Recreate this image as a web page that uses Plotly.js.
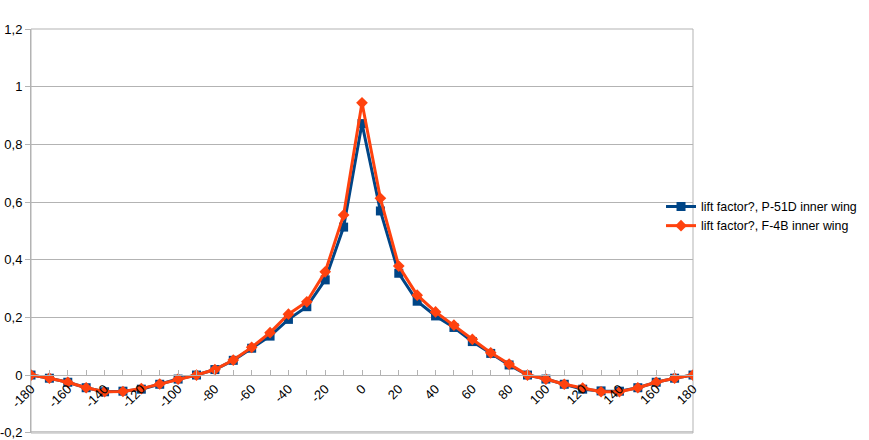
<!DOCTYPE html>
<html>
<head>
<meta charset="utf-8">
<script src="https://cdn.plot.ly/plotly-3.0.1.min.js"></script>
<style>html,body{margin:0;padding:0;background:#fff;}#chart{width:869px;height:440px;}</style>
</head>
<body>
<div id="chart"></div>
<script>
const angles = [-180,-170,-160,-150,-140,-130,-120,-110,-100,-90,-80,-70,-60,-50,-40,-30,-20,-10,0,10,20,30,40,50,60,70,80,90,100,110,120,130,140,150,160,170,180];
const p51d = [0,-0.011,-0.025,-0.044,-0.058,-0.056,-0.049,-0.032,-0.014,0,0.019,0.051,0.093,0.135,0.193,0.237,0.330,0.513,0.872,0.569,0.353,0.256,0.205,0.165,0.116,0.075,0.035,0,-0.014,-0.032,-0.049,-0.055,-0.056,-0.044,-0.025,-0.011,0];
const f4b = [0,-0.011,-0.025,-0.044,-0.058,-0.057,-0.047,-0.031,-0.014,0,0.019,0.052,0.096,0.147,0.211,0.254,0.358,0.555,0.944,0.613,0.378,0.277,0.219,0.173,0.124,0.077,0.038,0,-0.014,-0.032,-0.045,-0.058,-0.058,-0.044,-0.025,-0.011,0];
const seriesNames = ["lift factor?, P-51D inner wing", "lift factor?, F-4B inner wing"];
const xTickVals = [-180,-160,-140,-120,-100,-80,-60,-40,-20,0,20,40,60,80,100,120,140,160,180];
const xTickText = ["-180","-160","-140","-120","-100","-80","-60","-40","-20","0","20","40","60","80","100","120","140","160","180"];
const yTickVals = [-0.2,0,0.2,0.4,0.6,0.8,1,1.2];
const yTickText = ["-0,2","0","0,2","0,4","0,6","0,8","1","1,2"];

const gridCol = '#b3b3b3';
const traces = [
  {x: angles, y: p51d, name: seriesNames[0], type: 'scatter', mode: 'lines+markers',
   line: {color: '#004586', width: 3}, marker: {symbol: 'square', size: 9, color: '#004586'}},
  {x: angles, y: f4b, name: seriesNames[1], type: 'scatter', mode: 'lines+markers',
   line: {color: '#ff420e', width: 3}, marker: {symbol: 'diamond', size: 9, color: '#ff420e'}}
];
const layout = {
  width: 869, height: 440,
  margin: {l: 31, r: 176, t: 29, b: 7, pad: 0},
  paper_bgcolor: '#fff', plot_bgcolor: '#fff',
  font: {family: 'Liberation Sans, Arial, sans-serif', size: 12, color: '#000'},
  showlegend: true,
  legend: {x: 0.9517, xanchor: 'left', y: 0.536, yanchor: 'middle', bgcolor: 'rgba(0,0,0,0)',
           font: {size: 12.4, color: '#000'}, tracegroupgap: 0},
  xaxis: {range: [-180, 180], tickvals: xTickVals, ticktext: xTickText, tickangle: -45,
          anchor: 'free', position: 0.2/1.4, showgrid: false, zeroline: false,
          showline: true, linecolor: gridCol, linewidth: 1,
          ticks: 'inside', ticklen: 5, tickcolor: gridCol, ticklabeloverflow: 'allow',
          minor: {dtick: 10, tick0: 0, ticks: 'inside', ticklen: 5, tickcolor: gridCol, showgrid: false},
          tickfont: {size: 13, color: '#000'}},
  yaxis: {range: [-0.201, 1.2], tickvals: yTickVals, ticktext: yTickText,
          showgrid: true, gridcolor: gridCol, gridwidth: 1, zeroline: false,
          showline: true, linecolor: gridCol, linewidth: 1, ticklabeloverflow: 'allow',
          ticks: 'outside', ticklen: 5, tickcolor: gridCol, tickfont: {size: 13, color: '#000'}},
  shapes: [
    {type: 'rect', xref: 'paper', yref: 'paper', x0: 0, x1: 1, y0: 0, y1: 1,
     line: {color: gridCol, width: 1}, layer: 'below'},
    {type: 'line', xref: 'paper', yref: 'paper', x0: 0, x1: 1, y0: 0.003, y1: 0.003,
     line: {color: gridCol, width: 1}, layer: 'above'}
  ]
};
Plotly.newPlot('chart', traces, layout, {displayModeBar: false, staticPlot: true});
</script>
</body>
</html>
